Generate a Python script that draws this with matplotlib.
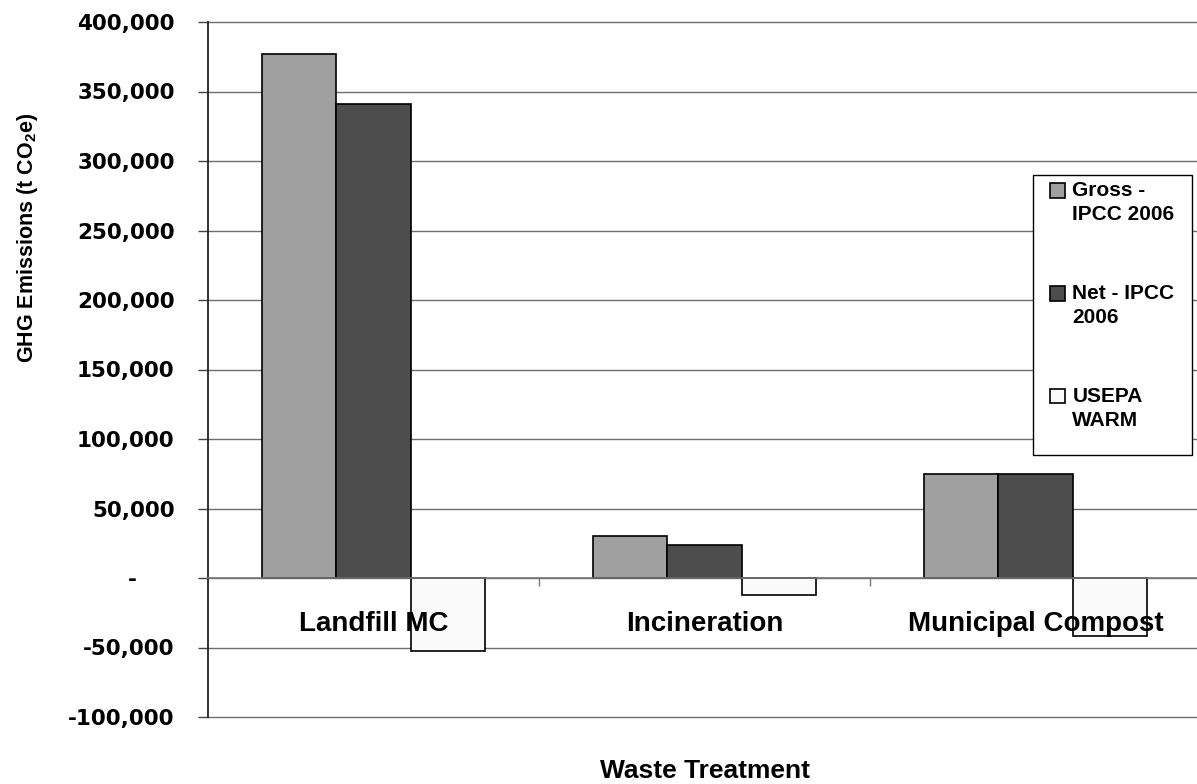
import matplotlib
matplotlib.use("Agg")
import matplotlib.pyplot as plt
import numpy as np
from matplotlib.ticker import FuncFormatter, FixedLocator
from matplotlib.legend_handler import HandlerPatch
from matplotlib.patches import Rectangle

categories = ["Landfill MC", "Incineration", "Municipal Compost"]
series_names = ["Gross -\nIPCC 2006", "Net - IPCC\n2006", "USEPA\nWARM"]
gross = [377000, 30000, 75000]
net = [341000, 23500, 75000]
usepa = [-52500, -12500, -41500]
yticks = [-100000, -50000, 0, 50000, 100000, 150000, 200000, 250000, 300000, 350000, 400000]

colors = ["#a0a0a0", "#4d4d4d", "#fafafa"]

plt.rcParams['font.family'] = ['Liberation Sans', 'DejaVu Sans']
plt.rcParams['font.weight'] = 'bold'
plt.rcParams['mathtext.fontset'] = 'custom'
plt.rcParams['mathtext.rm'] = 'Liberation Sans:bold'
plt.rcParams['mathtext.it'] = 'Liberation Sans:bold'
plt.rcParams['mathtext.bf'] = 'Liberation Sans:bold'

W, H = 1197, 784
fig = plt.figure(figsize=(W / 100, H / 100), dpi=100)
ax = fig.add_axes([208 / W, 1 - 717 / H, (1201 - 208) / W, (717 - 22) / H])

x = np.arange(len(categories))
bw = 0.224
series = [gross, net, usepa]
bars = []
for i, (vals, c, name) in enumerate(zip(series, colors, series_names)):
    b = ax.bar(x + (i - 1) * bw, vals, bw, color=c, edgecolor='black',
               linewidth=1.2, label=name, zorder=2)
    bars.append(b)

ax.set_xlim(-0.5, 2.5)
ax.set_ylim(-100000, 400000)
ax.yaxis.set_major_locator(FixedLocator(yticks))
ax.yaxis.set_major_formatter(FuncFormatter(lambda v, p: '-     ' if v == 0 else f'{v:,.0f}'))
ax.grid(axis='y', color='#6e6e6e', linewidth=1.0)
for gl in ax.yaxis.get_gridlines():
    gl.set_clip_on(False)
ax.yaxis.set_zorder(0.5)
ax.xaxis.set_zorder(5)

for lab in ax.get_yticklabels():
    lab.set_fontfamily('DejaVu Sans')
    lab.set_fontweight('bold')
    lab.set_fontsize(15.5)
ax.tick_params(axis='y', direction='out', length=7, width=1, color='#444444', pad=17)

ax.spines['top'].set_visible(False)
ax.spines['right'].set_visible(False)
ax.spines['left'].set_color('#222222')
ax.spines['left'].set_linewidth(1.3)
ax.spines['bottom'].set_position(('data', 0))
ax.spines['bottom'].set_color('#777777')
ax.spines['bottom'].set_linewidth(1.2)

ax.set_xticks(x)
ax.set_xticklabels(categories, fontsize=20, fontweight='bold')
ax.set_xticks([0.5, 1.5], minor=True)
ax.tick_params(axis='x', which='major', length=0, pad=24)
ax.tick_params(axis='x', which='minor', direction='out', length=6, width=1, color='#777777')

ax.set_xlabel("Waste Treatment", fontsize=19, fontweight='bold', va='center')
ax.xaxis.set_label_coords(0.5, (717 - 771) / (717 - 22))

fig.text(28 / W, 1 - 238 / H, "GHG Emissions (t CO$_2$e)", rotation=90,
         fontsize=15.5, fontweight='bold', ha='center', va='center')


def first_line_patch(legend, orig_handle, xdescent, ydescent, width, height, fontsize):
    return Rectangle((-xdescent, -ydescent + 0.6 * fontsize), width, height)


# legend box frame
ax.add_patch(Rectangle((1033 / W, 1 - 455 / H), (1192 - 1033) / W, (455 - 175) / H,
                       transform=fig.transFigure, facecolor='white', edgecolor='black',
                       linewidth=1.0, zorder=9, clip_on=False))

handles = [b.patches[0] for b in bars]
leg = ax.legend(handles, series_names, loc='upper left',
                bbox_to_anchor=(1050 / W, 1 - 181 / H),
                bbox_transform=fig.transFigure, borderaxespad=0,
                prop={'weight': 'bold', 'size': 15},
                handlelength=0.72, handleheight=0.72, handletextpad=0.35,
                labelspacing=2.85, borderpad=0, frameon=False,
                handler_map={h: HandlerPatch(patch_func=first_line_patch) for h in handles})
for t in leg.get_texts():
    t.set_linespacing(1.36)
leg.set_zorder(10)

fig.savefig("out.png", dpi=100, facecolor='white')
